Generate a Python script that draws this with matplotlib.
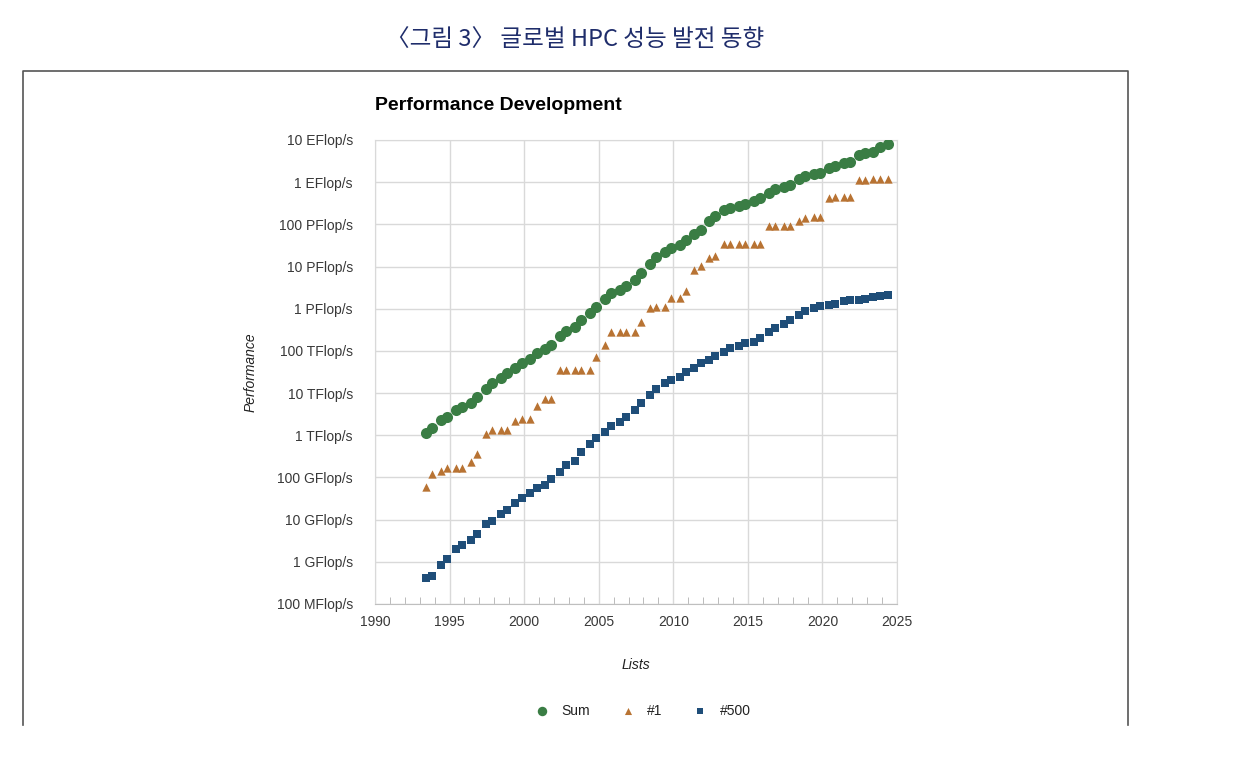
"""TOP500 performance development chart (Sum / #1 / #500)."""

import matplotlib
matplotlib.use("Agg")
import matplotlib.pyplot as plt
from matplotlib.lines import Line2D
from matplotlib.ticker import FixedLocator

plt.rcParams["font.family"] = ["Liberation Sans", "DejaVu Sans"]

W, H = 1238, 762
GRID = "#d9d9d9"
TXT = "#383838"
GREEN = "#3a7d44"
ORANGE = "#b87333"
BLUE = "#1f4e79"
NAVY = "#1f2d6b"

# list years, June (+0.42) and November (+0.83), 1993 .. June 2024
years = [y for y in range(1993, 2025) for _ in (0, 1)][:63]
offsets = [0.42, 0.83] * 32
lists = [y + o for y, o in zip(years, offsets[:63])]

# GFlop/s
perf_sum = [
    1128.6, 1493.4, 2317.0, 2732.2, 3928.0, 4784.5, 5850, 7991,
    12750, 17400, 22890, 29500, 38400, 50940, 64300, 88100,
    108500, 134400, 222200, 292600, 374700, 528000, 813000, 1127000,
    1690000, 2300000, 2790000, 3540000, 4920000, 6970000, 11700000, 16950000,
    22600000, 27600000, 32400000, 43700000, 58900000, 74200000, 123400000, 162000000,
    223000000, 250000000, 274000000, 309000000, 361000000, 420000000, 567000000, 672000000,
    749000000, 845000000, 1220000000, 1414000000, 1560000000, 1650000000, 2220000000, 2430000000,
    2800000000, 3040000000, 4400000000, 4860000000, 5240000000, 7010000000, 8210000000,
]
perf_n1 = [
    59.7, 124.0, 143.4, 170.0, 170.0, 170.0, 232.4, 368.2,
    1068, 1338, 1338, 1338, 2121, 2379, 2379, 4938,
    7226, 7226, 35860, 35860, 35860, 35860, 35860, 70720,
    136800, 280600, 280600, 280600, 280600, 478200, 1026000, 1105000,
    1105000, 1759000, 1759000, 2566000, 8162000, 10510000, 16325000, 17590000,
    33862700, 33862700, 33862700, 33862700, 33862700, 33862700, 93014600, 93014600,
    93014600, 93014600, 122300000, 143500000, 148600000, 148600000, 415530000, 442010000,
    442010000, 442010000, 1102000000, 1102000000, 1194000000, 1194000000, 1206000000,
]
perf_n500 = [
    0.42, 0.47, 0.85, 1.17, 1.96, 2.49, 3.36, 4.62,
    7.67, 9.51, 13.39, 17.12, 24.73, 33.07, 43.82, 55.1,
    67.78, 94.3, 134.3, 195.8, 245.1, 403.4, 624, 850.6,
    1166, 1646, 2026, 2737, 4005, 5929, 9000, 12640,
    17100, 20050, 24670, 31100, 39100, 50900, 60800, 76500,
    96600, 117800, 133700, 153400, 164000, 206300, 286000, 349300,
    432200, 548700, 715600, 874800, 1022000, 1142000, 1228000, 1317000,
    1511000, 1646000, 1650000, 1730000, 1870000, 2020000, 2131000,
]

ytick_vals = [0.1, 1, 10, 100, 1e3, 1e4, 1e5, 1e6, 1e7, 1e8, 1e9, 1e10]
ytick_labels = [
    "100 MFlop/s", "1 GFlop/s", "10 GFlop/s", "100 GFlop/s",
    "1 TFlop/s", "10 TFlop/s", "100 TFlop/s", "1 PFlop/s",
    "10 PFlop/s", "100 PFlop/s", "1 EFlop/s", "10 EFlop/s",
]
xticks = [1990, 1995, 2000, 2005, 2010, 2015, 2020, 2025]

fig = plt.figure(figsize=(W / 100, H / 100), dpi=100, facecolor="white")

# outer frame (open at the bottom)
fx = lambda px: px / W
fy = lambda py: 1 - py / H
fig.add_artist(Line2D([fx(23), fx(23), fx(1128), fx(1128)],
                      [fy(725), fy(71), fy(71), fy(725)],
                      color="#555555", lw=1.2, transform=fig.transFigure))

fig.text(fx(575), fy(40), "〈그림 3〉 글로벌 HPC 성능 발전 동향",
         family=["Noto Sans CJK KR", "DejaVu Sans"], fontsize=17,
         color=NAVY, ha="center", va="center")

ax = fig.add_axes([fx(375), fy(604), (897 - 375) / W, (604 - 140) / H])
ax.set_yscale("log")
ax.set_xlim(1990, 2025)
ax.set_ylim(0.1, 1e10)

ax.scatter(lists, perf_sum, marker="o", s=64, color=GREEN, zorder=3, label="Sum", linewidths=0)
ax.scatter(lists, perf_n1, marker="^", s=36, color=ORANGE, zorder=3, label="#1", linewidths=0)
ax.scatter(lists, perf_n500, marker="s", s=28, color=BLUE, zorder=3, label="#500", linewidths=0)

ax.yaxis.set_major_locator(FixedLocator(ytick_vals))
ax.yaxis.set_minor_locator(FixedLocator([]))
ax.set_yticklabels(ytick_labels)
ax.set_xticks(xticks)
ax.set_xticks(range(1990, 2026), minor=True)
ax.grid(True, which="major", color=GRID, lw=1.0)
ax.set_axisbelow(True)
for s in ax.spines.values():
    s.set_color(GRID)
ax.spines["bottom"].set_color("#bfbfbf")
ax.tick_params(axis="y", length=0, pad=16, labelsize=10, labelcolor=TXT)
ax.tick_params(axis="x", which="major", length=0, pad=8, labelsize=10, labelcolor=TXT)
ax.tick_params(axis="x", which="minor", direction="in", length=5, color="#b0b0b0")

ax.set_xlabel("Lists", fontstyle="italic", fontsize=10, color="#222222", labelpad=21)
ax.set_ylabel("Performance", fontstyle="italic", fontsize=10, color="#222222", labelpad=14)

fig.text(fx(375), fy(106), "Performance Development", fontsize=14,
         fontweight="bold", color="black", ha="left", va="center")

leg = fig.legend(loc="center", bbox_to_anchor=(fx(643), fy(711)), ncol=3,
                 frameon=False, fontsize=10, handletextpad=0.9, columnspacing=2.2,
                 markerscale=0.85, handlelength=1.0)
for t in leg.get_texts():
    t.set_color("#222222")

fig.savefig("out.png", dpi=100, facecolor="white")
